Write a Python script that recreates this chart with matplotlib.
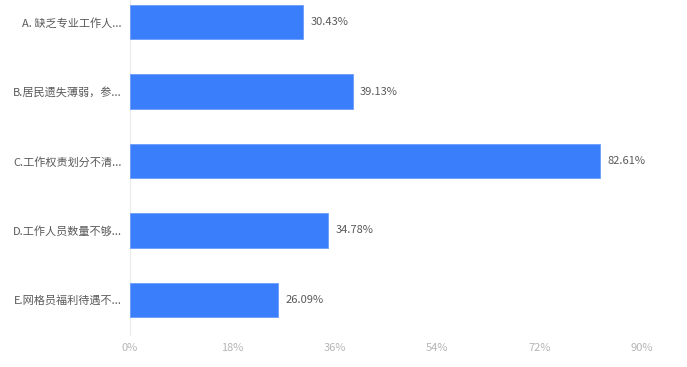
import matplotlib.pyplot as plt
import numpy as np

plt.rcParams['font.family'] = ['Noto Sans CJK SC', 'DejaVu Sans']

categories = ['A. 缺乏专业工作人...', 'B.居民遗失薄弱，参...', 'C.工作权责划分不清...',
              'D.工作人员数量不够...', 'E.网格员福利待遇不...']
values = [30.43, 39.13, 82.61, 34.78, 26.09]
xticks = [0, 18, 36, 54, 72, 90]

fig = plt.figure(figsize=(6.87, 3.67), dpi=100)
# axes: left 130px, right 642px, top 0px, bottom 335px
ax = fig.add_axes([130 / 687, (367 - 335) / 367, 512 / 687, 335 / 367])

y = np.arange(len(categories))
ax.barh(y, values, height=0.5, color='#3a7efc', edgecolor='#6b9dfb', linewidth=0.6, zorder=3)

for yi, v in zip(y, values):
    ax.text(v + 1.3, yi, f'{v:.2f}%', va='center', ha='left', fontsize=8, color='#595959')

ax.set_ylim(4.504, -0.317)
ax.set_xlim(0, 90)
ax.set_xticks(xticks)
ax.set_xticklabels([f'{t}%' for t in xticks], fontsize=8, color='#b5b5b5')
ax.set_yticks(y)
ax.set_yticklabels(categories, fontsize=8, color='#595959')
ax.tick_params(axis='x', length=0, pad=6)
ax.tick_params(axis='y', length=0, pad=6)

for s in ['top', 'right', 'bottom']:
    ax.spines[s].set_visible(False)
ax.spines['left'].set_color('#ececec')
ax.spines['left'].set_linewidth(1)

fig.savefig('out.png', dpi=100)
